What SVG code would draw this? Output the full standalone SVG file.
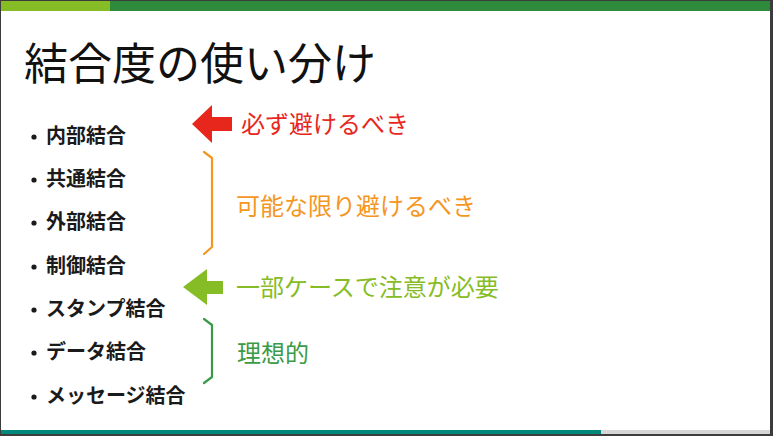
<svg xmlns="http://www.w3.org/2000/svg" width="773" height="436" viewBox="0 0 773 436">
<style>
.jp{font-family:"Noto Sans CJK JP","Noto Sans",sans-serif}
.item{font-size:20px;font-weight:bold;fill:#1a1a1a}
.lbl{font-size:24px}
.brk{fill:none;stroke-width:2.2;stroke-linejoin:round;stroke-linecap:round}
</style>
<rect x="0" y="0" width="773" height="436" fill="#3c3c3c"/>
<rect x="1" y="1" width="769" height="433" fill="#ffffff"/>
<g id="topbar">
<rect x="1" y="1" width="110" height="10" fill="#86bc25"/>
<rect x="110" y="1" width="660" height="10" fill="#2e8b3c"/>
</g>
<g id="bottombar">
<rect x="1" y="430" width="600" height="4" fill="#00897b"/>
<rect x="601" y="430" width="169" height="4" fill="#d6d6d6"/>
</g>
<text id="title" class="jp" x="24" y="80" font-size="44" fill="#111">結合度の使い分け</text>
<g id="list" class="jp item">
<g id="item1"><circle cx="34" cy="137" r="2.6" fill="#1a1a1a"/><text x="46" y="143">内部結合</text></g>
<g id="item2"><circle cx="34" cy="180" r="2.6" fill="#1a1a1a"/><text x="46" y="186">共通結合</text></g>
<g id="item3"><circle cx="34" cy="223" r="2.6" fill="#1a1a1a"/><text x="46" y="229">外部結合</text></g>
<g id="item4"><circle cx="34" cy="267" r="2.6" fill="#1a1a1a"/><text x="46" y="273">制御結合</text></g>
<g id="item5"><circle cx="34" cy="310" r="2.6" fill="#1a1a1a"/><text x="46" y="316">スタンプ結合</text></g>
<g id="item6"><circle cx="34" cy="353" r="2.6" fill="#1a1a1a"/><text x="46" y="359">データ結合</text></g>
<g id="item7"><circle cx="34" cy="397" r="2.6" fill="#1a1a1a"/><text x="46" y="403">メッセージ結合</text></g>
</g>
<g id="connectors">
<polygon id="arrow-red" points="192,124 212,105 212,117 232,117 232,131 212,131 212,143" fill="#e8271c"/>
<path id="bracket-orange" class="brk" d="M204,152 L212,158 L212,247 L204,254" stroke="#f5961f"/>
<polygon id="arrow-green" points="183,287 207,269 207,281 223,281 223,294 207,294 207,305" fill="#86bc25"/>
<path id="bracket-green" class="brk" d="M204,319 L212,325 L212,377 L204,383" stroke="#3b9a48"/>
</g>
<g id="labels" class="jp lbl">
<text id="lbl-red" x="241" y="133" fill="#e8271c">必ず避けるべき</text>
<text id="lbl-orange" x="236" y="215" fill="#f5961f">可能な限り避けるべき</text>
<text id="lbl-lightgreen" x="236" y="296" fill="#86bc25">一部ケースで注意が必要</text>
<text id="lbl-green" x="237" y="362" fill="#3b9a48">理想的</text>
</g>
</svg>
